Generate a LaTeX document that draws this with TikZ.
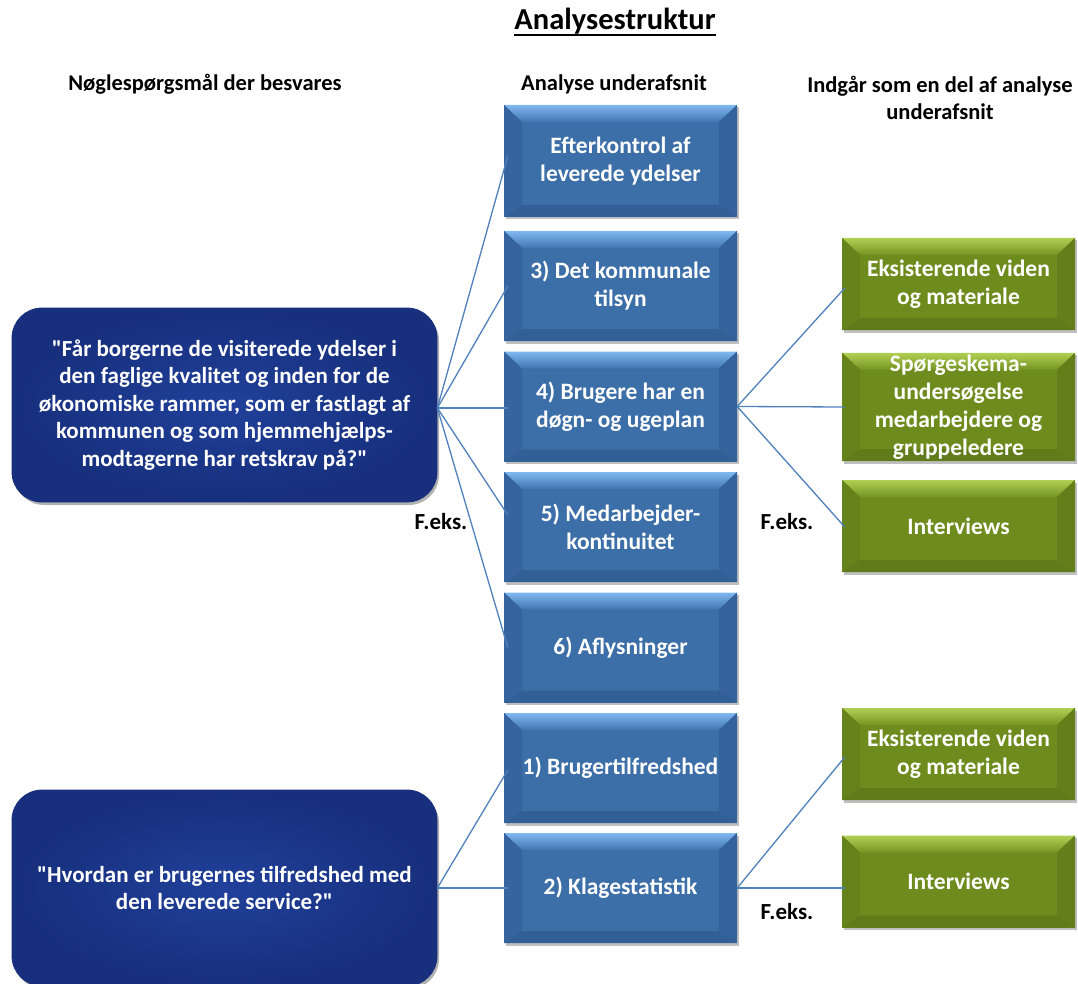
\documentclass[tikz,border=0pt]{standalone}
\usepackage{fontspec}
\setmainfont{Carlito}
\usetikzlibrary{shadows}
\definecolor{lnk}{HTML}{4F81BD}
\definecolor{qfaceA}{HTML}{20409A}
\definecolor{qfaceB}{HTML}{172F7C}
\definecolor{bFace}{RGB}{60,110,168}
\definecolor{bTopA}{RGB}{128,184,240}
\definecolor{bTopB}{RGB}{64,116,176}
\definecolor{bLeft}{RGB}{54,101,158}
\definecolor{bRight}{RGB}{52,98,154}
\definecolor{bBot}{RGB}{50,95,150}
\definecolor{gFace}{RGB}{110,140,30}
\definecolor{gTopA}{RGB}{176,208,84}
\definecolor{gTopB}{RGB}{116,148,34}
\definecolor{gLeft}{RGB}{102,131,27}
\definecolor{gRight}{RGB}{99,127,26}
\definecolor{gBot}{RGB}{96,123,25}
\tikzset{
  bev/.style n args={6}{rectangle, fill=#1, text=white,
    font=\bfseries\fontsize{23.5}{28}\selectfont, align=center, inner sep=2pt,
    minimum width=233pt,
    drop shadow={shadow xshift=1.5pt, shadow yshift=-2.5pt, opacity=0.25, fill=black},
    path picture={
      \path (path picture bounding box.north west) coordinate (pNW)
            (path picture bounding box.north east) coordinate (pNE)
            (path picture bounding box.south west) coordinate (pSW)
            (path picture bounding box.south east) coordinate (pSE);
      \shade[top color=#2, bottom color=#3] (pNW) -- (pNE) -- ([shift={(-18pt,-17pt)}]pNE) -- ([shift={(18pt,-17pt)}]pNW) -- cycle;
      \fill[#4] (pNW) -- ([shift={(18pt,-17pt)}]pNW) -- ([shift={(18pt,12pt)}]pSW) -- (pSW) -- cycle;
      \fill[#5] (pNE) -- ([shift={(-18pt,-17pt)}]pNE) -- ([shift={(-18pt,12pt)}]pSE) -- (pSE) -- cycle;
      \fill[#6] (pSW) -- ([shift={(18pt,12pt)}]pSW) -- ([shift={(-18pt,12pt)}]pSE) -- (pSE) -- cycle;
    }},
  bluebox/.style={bev={bFace}{bTopA}{bTopB}{bLeft}{bRight}{bBot}, minimum height=110pt},
  greenbox/.style={bev={gFace}{gTopA}{gTopB}{gLeft}{gRight}{gBot}, minimum height=92pt},
  qbox/.style={rectangle, rounded corners=30pt, minimum width=425pt, text=white,
    inner color=qfaceA, outer color=qfaceB, draw=qfaceB, line width=0.8pt,
    font=\bfseries\fontsize{23}{27.5}\selectfont, align=center,
    drop shadow={shadow xshift=2pt, shadow yshift=-3pt, opacity=0.3, fill=black}},
  hdr/.style={font=\bfseries\fontsize{22.5}{27}\selectfont, align=center, text=black},
  feks/.style={font=\bfseries\fontsize{23}{27}\selectfont, text=black},
  link/.style={draw=lnk, line width=1.3pt},
}
\begin{document}
\begin{tikzpicture}[x=1pt,y=-1pt]
\useasboundingbox[fill=white] (0,0) rectangle (1078,984);

% title and headers
\node[font=\bfseries\fontsize{30.5}{35}\selectfont, inner sep=0pt] (title) at (615,21) {Analysestruktur};
\draw[line width=2.5pt] ([yshift=-5.5pt]title.base west) -- ([yshift=-5.5pt]title.base east);
\node[hdr] (h1) at (205,84) {Nøglespørgsmål der besvares};
\node[hdr] (h2) at (614,84) {Analyse underafsnit};
\node[hdr] (h3) at (940,97.5) {Indgår som en del af analyse\\underafsnit};

% left question boxes
\node[qbox, minimum height=194pt] (q1) at (224.5,405) {\textquotedbl Får borgerne de visiterede ydelser i\\den faglige kvalitet og inden for de\\økonomiske rammer, som er fastlagt af\\kommunen og som hjemmehjælps-\\modtagerne har retskrav på?\textquotedbl};
\node[qbox, minimum height=196pt] (q2) at (224.5,888) {\textquotedbl Hvordan er brugernes tilfredshed med\\den leverede service?\textquotedbl};

% blue boxes
\node[bluebox, minimum height=112pt] (b1) at (620.5,161) {Efterkontrol af\\leverede ydelser};
\node[bluebox] (b3) at (620.5,286) {3) Det kommunale\\tilsyn};
\node[bluebox] (b4) at (620.5,406.5) {4) Brugere har en\\døgn- og ugeplan};
\node[bluebox] (b5) at (620.5,527) {5) Medarbejder-\\kontinuitet};
\node[bluebox] (b6) at (620.5,647.5) {6) Aflysninger};
\node[bluebox] (b7) at (620.5,768) {1) Brugertilfredshed};
\node[bluebox] (b8) at (620.5,888) {2) Klagestatistik};

% green boxes
\node[greenbox] (g1) at (958.5,284) {Eksisterende viden\\og materiale};
\node[greenbox] (g2) at (958.5,407) {Spørgeskema-\\undersøgelse\\medarbejdere og\\gruppeledere};
\node[greenbox] (g3) at (958.5,526) {Interviews};
\node[greenbox] (g4) at (958.5,754) {Eksisterende viden\\og materiale};
\node[greenbox] (g5) at (958.5,881.5) {Interviews};

% F.eks. labels
\node[feks] (f1) at (441,522) {F.eks.};
\node[feks] (f2) at (787,522) {F.eks.};
\node[feks] (f3) at (787,912) {F.eks.};

% connectors
\coordinate (hub1) at ([yshift=-3pt]q1.east);
\draw[link] (hub1) -- ([xshift=4pt,yshift=5pt]b1.west);
\draw[link] (hub1) -- ([xshift=4pt]b3.west);
\draw[link] (hub1) -- ([xshift=4pt,yshift=-1.5pt]b4.west);
\draw[link] (hub1) -- ([xshift=4pt,yshift=12pt]b5.west);
\draw[link] (hub1) -- ([xshift=4pt]b6.west);
\draw[link] (q2.east) -- ([xshift=4pt,yshift=-2pt]b7.west);
\draw[link] (q2.east) -- ([xshift=4pt]b8.west);
\draw[link] (b4.east) -- ([xshift=3pt,yshift=-4pt]g1.west);
\draw[link] (b4.east) -- ([xshift=3pt]g2.west);
\draw[link] (b4.east) -- ([xshift=3pt,yshift=-1pt]g3.west);
\draw[link] (b8.east) -- ([xshift=3pt,yshift=-3pt]g4.west);
\draw[link] (b8.east) -- ([xshift=3pt]b8.east -| g5.west);
\end{tikzpicture}
\end{document}
